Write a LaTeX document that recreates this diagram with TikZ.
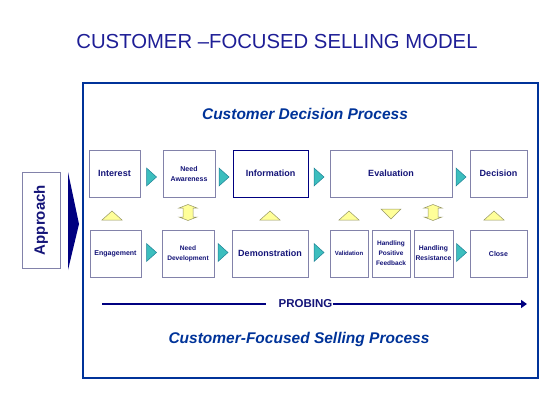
\documentclass[tikz,border=0pt]{standalone}
\usepackage{fontspec}
\setmainfont{Liberation Sans}
\usetikzlibrary{calc,arrows.meta}

\definecolor{titleblue}{RGB}{30,30,150}
\definecolor{frameblue}{RGB}{0,51,153}
\definecolor{txtblue}{RGB}{20,20,120}
\definecolor{boxgray}{RGB}{130,130,170}
\definecolor{navyline}{RGB}{0,0,128}
\definecolor{tealfill}{RGB}{60,190,190}
\definecolor{tealdark}{RGB}{30,130,150}
\definecolor{yelfill}{RGB}{255,255,153}
\definecolor{yeldraw}{RGB}{150,150,100}

\begin{document}
\begin{tikzpicture}[x=1pt,y=-1pt]
\tikzstyle{box} = [draw=boxgray, line width=0.8pt, fill=white, inner sep=1pt, align=center, text=txtblue, minimum height=47]
\tikzstyle{grayedge} = []
\tikzstyle{darkedge} = [draw=navyline]
\tikzstyle{tealtip} = [fill=tealfill, draw=tealdark, line width=0.5pt]
\tikzstyle{yeltip} = [fill=yelfill, draw=yeldraw, line width=0.5pt]

\useasboundingbox (0,0) rectangle (560,420);

% Titolo e cornice
\node[text=titleblue, font=\fontsize{20.3}{23}\selectfont] (title) at (277,42) {CUSTOMER –FOCUSED SELLING MODEL};
\draw[line width=2.5pt, frameblue] (83,83) rectangle (538,378);

\node[text=frameblue, font=\bfseries\itshape\fontsize{15.5}{18}\selectfont] (cdp) at (305,114) {Customer Decision Process};

% Riga superiore: processo decisionale del cliente
\foreach \i/\x/\w/\fs/\st/\txt in {1/114.5/51/9/grayedge/Interest, 2/189/52/7/grayedge/Need\\Awareness,
    3/270.5/75/9/darkedge/Information, 4/391/122/9/grayedge/Evaluation, 5/498.5/57/9/grayedge/Decision} {
  \node[box, \st, minimum width=\w, font=\bfseries\fontsize{\fs}{10}\selectfont] (cd-\i) at (\x,173.5) {\txt};
}

% Riga inferiore: processo di vendita
\foreach \i/\x/\w/\fs/\txt in {1/115.5/51/7/Engagement, 2/188/52/6.6/Need\\Development, 3/270/76/9/Demonstration,
    4/349/38/6/Validation, 5/391/38/6.5/Handling\\Positive\\Feedback, 6/433.5/39/6.8/Handling\\Resistance, 7/498.5/57/7/Close} {
  \node[box, minimum width=\w, font=\bfseries\fontsize{\fs}{10}\selectfont] (sp-\i) at (\x,253.5) {\txt};
}

% Frecce turchesi tra i riquadri
\foreach \a/\b/\dy in {cd-1/cd-2/3.5, cd-2/cd-3/3.5, cd-3/cd-4/3.5, cd-4/cd-5/3.5,
    sp-1/sp-2/-1, sp-2/sp-3/-1, sp-3/sp-4/-1, sp-6/sp-7/-1} {
  \filldraw[tealtip] ($(\a.east)!0.5!(\b.west)$) ++(-5,\dy-9) -- ++(10,9) -- ++(-10,9) -- cycle;
}

% Triangoli gialli tra le righe
\foreach \x in {112,270,349,494} {
  \filldraw[yeltip] (\x-10,220) -- (\x+10,220) -- (\x,211) -- cycle;
}
\filldraw[yeltip] (381,209) -- (401,209) -- (391,219) -- cycle;
\foreach \x in {188,433} {
  \filldraw[yeltip] (\x,204.5) -- (\x+9,208) -- (\x+5,208) -- (\x+5,217) -- (\x+9,217)
    -- (\x,220.5) -- (\x-9,217) -- (\x-5,217) -- (\x-5,208) -- (\x-9,208) -- cycle;
}

% Approccio
\node[draw=boxgray, line width=0.8pt, rotate=90, minimum width=96, minimum height=38, text=txtblue,
      font=\bfseries\fontsize{15}{16}\selectfont] (appr) at (41,220) {Approach};
\fill[navyline] (68,172) -- (79,224) -- (68,270) -- cycle;

% Sondaggio
\node[text=txtblue, inner sep=0pt, font=\bfseries\fontsize{11.5}{12}\selectfont] (prob) at (305.5,304) {PROBING};
\coordinate (prob-start) at (102,304);
\coordinate (prob-end) at (527,304);
\draw[line width=2.8pt, navyline] (prob-start) -- ([xshift=-12pt]prob.west);
\draw[line width=2.8pt, navyline, -{Triangle[length=6pt,width=8pt]}] (prob.east) -- (prob-end);

\node[text=frameblue, font=\bfseries\itshape\fontsize{15.5}{18}\selectfont] (csp) at (299,339) {Customer-Focused Selling Process};

\end{tikzpicture}
\end{document}
